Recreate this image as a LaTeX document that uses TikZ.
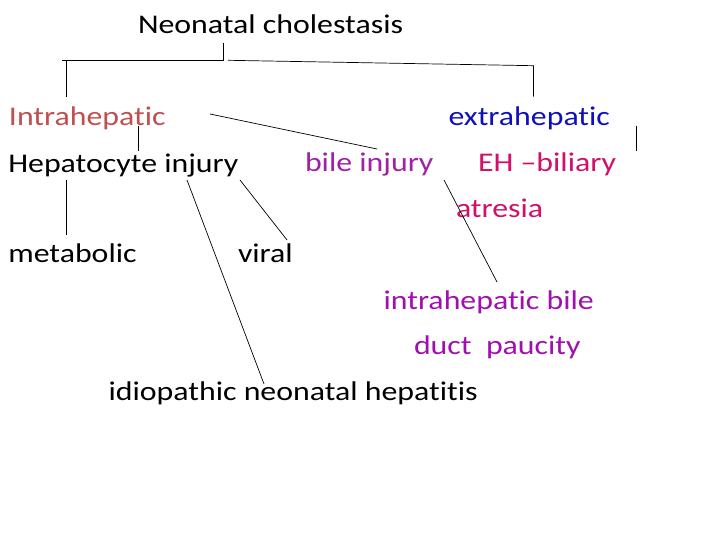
\documentclass[tikz,border=0pt]{standalone}
\usepackage{fontspec}
\setmainfont[FakeStretch=1.18,Ligatures=NoCommon]{Carlito}
\definecolor{cRed}{HTML}{C0504D}
\definecolor{cBlue}{HTML}{1010B8}
\definecolor{cPurple}{HTML}{A020A8}
\definecolor{cCrimson}{HTML}{D0106A}
\definecolor{cViolet}{HTML}{A010B0}
\begin{document}
\begin{tikzpicture}[x=1pt,y=-1pt,
  lbl/.style={anchor=base west,inner sep=0pt,outer sep=0pt,font=\fontsize{27}{32}\selectfont},
  ln/.style={draw=black,line width=0.7pt}]
\useasboundingbox (0,0) rectangle (720,540);
\fill[white] (0,0) rectangle (720,540);
% texts
\node[lbl] (title) at (138,33.3) {Neonatal cholestasis};
\node[lbl,text=cRed] (intra) at (9,125.5) {Intrahepatic};
\node[lbl,text=cBlue] (extra) at (448.5,125.5) {extrahepatic};
\node[lbl] (hep) at (8.3,172.3) {Hepatocyte injury};
\node[lbl,text=cPurple] (bile) at (305,172) {bile injury};
\node[lbl,text=cCrimson] (eh) at (478,172) {EH –biliary};
\node[lbl,text=cCrimson] (atr) at (456,217.5) {atresia};
\node[lbl] (meta) at (8.3,262) {metabolic};
\node[lbl] (viral) at (238,262) {viral};
\node[lbl,text=cViolet] (ihb) at (383.6,309.5) {intrahepatic bile};
\node[lbl,text=cViolet] (duct) at (414,354) {duct\ \ paucity};
\node[lbl] (idio) at (108.6,400) {idiopathic neonatal hepatitis};
% connector end points
\coordinate (tS) at (223,43);
\coordinate (tJ) at (223,60.7);
\coordinate (tL) at (62,60.7);
\coordinate (lV) at (66.5,60.7);
\coordinate (lB) at (66.5,96.7);
\coordinate (rA) at (228,60.3);
\coordinate (rJ) at (533.5,65.7);
\coordinate (rB) at (533.5,96.7);
\coordinate (xA) at (636.5,126);
\coordinate (xB) at (636.5,151);
\coordinate (iA) at (210,114);
\coordinate (iB) at (377,149);
\coordinate (hA) at (138.5,126);
\coordinate (hB) at (138.5,151);
\coordinate (mA) at (66.7,180);
\coordinate (mB) at (66.7,235);
\coordinate (vA) at (240,180);
\coordinate (vB) at (287,240);
\coordinate (nA) at (187,180);
\coordinate (nB) at (264,384);
\coordinate (eA) at (444,180);
\coordinate (eB) at (497,282);
% connectors
\draw[ln] (tS) -- (tJ) -- (tL);
\draw[ln] (lV) -- (lB);
\draw[ln] (rA) -- (rJ) -- (rB);
\draw[ln] (xA) -- (xB);
\draw[ln] (iA) -- (iB);
\draw[ln] (hA) -- (hB);
\draw[ln] (mA) -- (mB);
\draw[ln] (vA) -- (vB);
\draw[ln] (nA) -- (nB);
\draw[ln] (eA) -- (eB);
\end{tikzpicture}
\end{document}
